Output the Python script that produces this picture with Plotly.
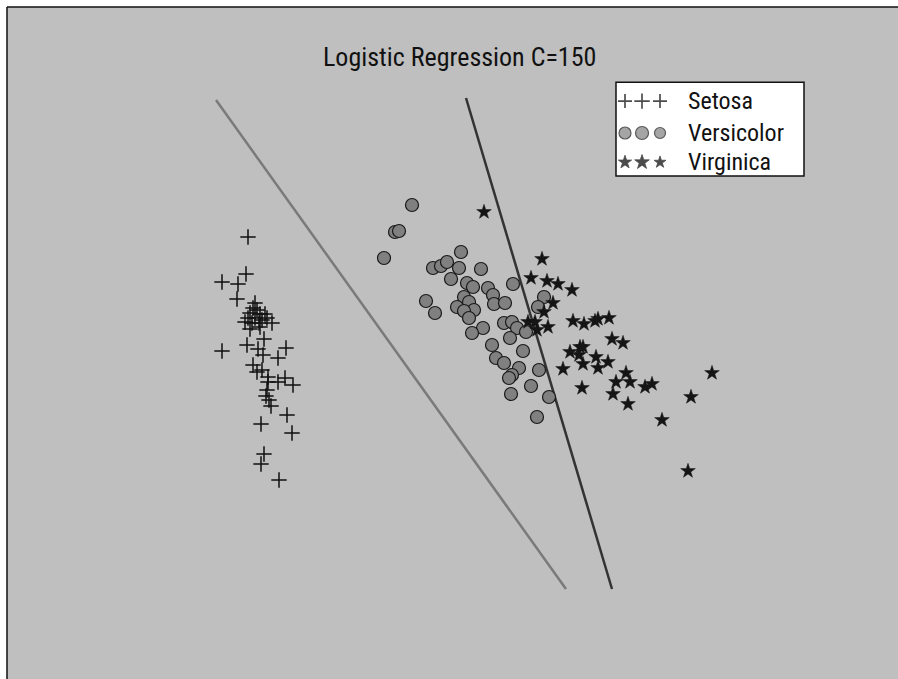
import plotly.graph_objects as go

# Iris samples projected onto two features (arbitrary units)
setosa_x = [2.41, 2.39, 2.15, 2.31, 2.30, 2.48, 2.43, 2.50, 2.53, 2.58, 2.38, 2.45,
            2.52, 2.65, 2.43, 2.53, 2.60, 2.48, 2.46, 2.55, 2.41, 2.57, 2.40, 2.15,
            2.51, 2.56, 2.79, 2.71, 2.46, 2.50, 2.55, 2.61, 2.61, 2.71, 2.78, 2.86,
            2.60, 2.59, 2.62, 2.64, 2.80, 2.54, 2.85, 2.57, 2.54, 2.72]
setosa_y = [4.42, 4.05, 3.97, 3.95, 3.80, 3.76, 3.66, 3.69, 3.65, 3.65, 3.57, 3.56,
            3.56, 3.56, 3.50, 3.52, 3.61, 3.61, 3.71, 3.59, 3.61, 3.40, 3.34, 3.28,
            3.30, 3.24, 3.31, 3.21, 3.14, 3.07, 3.09, 3.02, 2.97, 2.97, 3.01, 2.94,
            2.89, 2.83, 2.79, 2.73, 2.64, 2.55, 2.46, 2.25, 2.15, 1.99]

versicolor_x = [4.05, 3.88, 3.92, 3.77, 4.54, 4.26, 4.34, 4.40, 4.52, 4.44, 4.74, 4.60,
                4.66, 4.81, 4.86, 4.87, 4.19, 4.28, 4.57, 4.62, 4.67, 4.50, 4.57, 4.62,
                4.76, 4.65, 4.98, 5.06, 5.37, 5.31, 4.97, 5.05, 5.10, 5.19, 5.03, 4.85,
                5.16, 4.89, 4.97, 5.12, 5.05, 5.02, 5.32, 5.04, 5.24, 5.42, 5.30]
versicolor_y = [4.74, 4.47, 4.48, 4.21, 4.27, 4.11, 4.13, 4.17, 4.11, 4.00, 4.10, 3.96,
                3.92, 3.91, 3.84, 3.75, 3.78, 3.66, 3.82, 3.77, 3.69, 3.72, 3.68, 3.61,
                3.51, 3.46, 3.76, 3.95, 3.82, 3.72, 3.56, 3.57, 3.51, 3.47, 3.41, 3.34,
                3.28, 3.21, 3.16, 3.11, 3.04, 3.01, 3.09, 2.85, 2.93, 2.82, 2.62]

virginica_x = [4.77, 5.35, 5.24, 5.40, 5.51, 5.65, 5.46, 5.37, 5.21, 5.28, 5.30, 5.41,
               5.66, 5.77, 5.88, 5.91, 6.02, 6.05, 6.16, 5.63, 5.73, 5.76, 5.72, 5.89,
               6.01, 5.76, 5.91, 5.56, 5.75, 6.19, 6.09, 6.23, 6.06, 6.21, 6.38, 6.45,
               6.55, 6.84, 7.05, 6.81]
virginica_y = [4.67, 4.20, 4.01, 3.98, 3.95, 3.89, 3.76, 3.67, 3.57, 3.57, 3.49, 3.52,
               3.58, 3.55, 3.58, 3.60, 3.61, 3.40, 3.36, 3.27, 3.32, 3.32, 3.24, 3.22,
               3.17, 3.15, 3.11, 3.10, 2.91, 3.06, 2.97, 2.97, 2.85, 2.75, 2.92, 2.95,
               2.59, 2.82, 3.06, 2.08]

# Decision boundaries (segment endpoints)
boundary1_x = [2.09, 5.59]
boundary1_y = [5.79, 0.90]
boundary2_x = [4.59, 6.05]
boundary2_y = [5.81, 0.90]

title_text = "Logistic Regression C=150"
legend_names = ["Setosa", "Versicolor", "Virginica"]

FONT = "Liberation Sans Narrow, Arial Narrow, Roboto Condensed, Liberation Sans, sans-serif"
BG = "#bfbfbf"
INK = "#111111"

fig = go.Figure()

fig.add_trace(go.Scatter(x=boundary1_x, y=boundary1_y, mode="lines",
                         line=dict(color="#7a7a7a", width=2.5), hoverinfo="skip"))
fig.add_trace(go.Scatter(x=boundary2_x, y=boundary2_y, mode="lines",
                         line=dict(color="#333333", width=2.5), hoverinfo="skip"))

fig.add_trace(go.Scatter(x=setosa_x, y=setosa_y, mode="markers", name="Setosa",
                         marker=dict(symbol="cross-thin-open", size=11, color=INK,
                                     line=dict(color=INK, width=1.5))))
fig.add_trace(go.Scatter(x=versicolor_x, y=versicolor_y, mode="markers", name="Versicolor",
                         marker=dict(symbol="circle", size=13, color="#808080",
                                     line=dict(color="#1a1a1a", width=1.2))))
fig.add_trace(go.Scatter(x=virginica_x, y=virginica_y, mode="markers", name="Virginica",
                         marker=dict(symbol="star", size=11, color="#151515",
                                     line=dict(color="#151515", width=0.5))))

# Legend glyphs on an overlay axis spanning the plot area in 0..1 units
leg_x = [0.6936, 0.7127, 0.7329]
leg_rows = [0.860, 0.8125, 0.769]
fig.add_trace(go.Scatter(x=leg_x, y=[leg_rows[0]] * 3, xaxis="x2", yaxis="y2", mode="markers",
                         marker=dict(symbol="cross-thin-open", size=[10, 11, 10], color="#000000",
                                     line=dict(color="#000000", width=1.7)), hoverinfo="skip"))
fig.add_trace(go.Scatter(x=leg_x, y=[leg_rows[1]] * 3, xaxis="x2", yaxis="y2", mode="markers",
                         marker=dict(symbol="circle", size=[12, 13, 11], color="#808080",
                                     line=dict(color="#111111", width=1.2)), hoverinfo="skip"))
fig.add_trace(go.Scatter(x=leg_x, y=[leg_rows[2]] * 3, xaxis="x2", yaxis="y2", mode="markers",
                         marker=dict(symbol="star", size=[10, 11, 9], color="#000000",
                                     line=dict(color="#000000", width=0.8)), hoverinfo="skip"))

annotations = [dict(text=title_text, x=0.508, y=0.9256, xref="paper", yref="paper",
                    xanchor="center", yanchor="middle", showarrow=False,
                    font=dict(family=FONT, size=26, color=INK))]
for name, yy in zip(legend_names, leg_rows):
    annotations.append(dict(text=name, x=0.762, y=yy, xref="paper", yref="paper",
                            xanchor="left", yanchor="middle", showarrow=False,
                            font=dict(family=FONT, size=24, color=INK)))

shapes = [
    # frame edges
    dict(type="line", xref="paper", yref="paper", x0=0, x1=0, y0=-0.05, y1=1,
         line=dict(color=INK, width=1.5)),
    dict(type="line", xref="paper", yref="paper", x0=0, x1=1.05, y0=1, y1=1,
         line=dict(color=INK, width=1.5)),
    # legend box
    dict(type="rect", xref="paper", yref="paper", x0=0.6835, x1=0.8945, y0=0.7485, y1=0.888,
         fillcolor="white", line=dict(color=INK, width=1.5), layer="below"),
]

axis_off = dict(showgrid=False, zeroline=False, showticklabels=False, ticks="", showline=False)
fig.update_layout(
    width=898, height=679,
    margin=dict(l=7, r=0, t=7, b=0),
    paper_bgcolor="white", plot_bgcolor=BG,
    showlegend=False,
    xaxis=dict(range=[0, 8.91], **axis_off),
    yaxis=dict(range=[0, 6.72], **axis_off),
    xaxis2=dict(range=[0, 1], overlaying="x", anchor="y2", **axis_off),
    yaxis2=dict(range=[0, 1], overlaying="y", anchor="x2", **axis_off),
    annotations=annotations,
    shapes=shapes,
)

fig.write_html("out.html")
